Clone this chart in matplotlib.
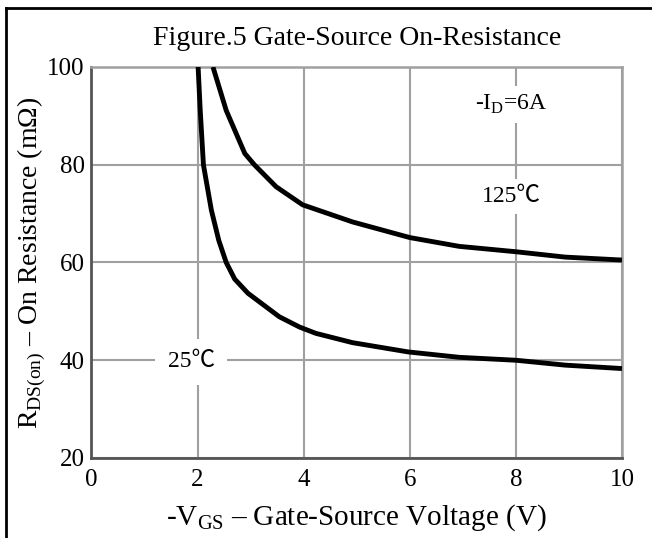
import matplotlib
matplotlib.use("Agg")
import matplotlib.pyplot as plt
from matplotlib.lines import Line2D

plt.rcParams['font.family'] = ['Liberation Serif', 'Noto Sans CJK SC']
plt.rcParams['mathtext.fontset'] = 'custom'
plt.rcParams['mathtext.rm'] = 'Liberation Serif'

vgs_25 = [2.01, 2.05, 2.11, 2.26, 2.40, 2.54, 2.70, 2.95, 3.54, 3.92, 4.23, 4.92, 5.97, 6.93, 8.0, 8.93, 10.0]
rds_25 = [100, 91.1, 80, 70.7, 64.5, 60, 56.6, 53.7, 48.9, 46.8, 45.5, 43.6, 41.7, 40.6, 40.0, 39.0, 38.3]

vgs_125 = [2.29, 2.54, 2.89, 3.07, 3.48, 3.98, 4.92, 6.0, 6.93, 8.0, 8.93, 10.0]
rds_125 = [100, 91.1, 82.3, 80, 75.5, 71.8, 68.3, 65.1, 63.3, 62.2, 61.1, 60.5]

xticks = [0, 2, 4, 6, 8, 10]
yticks = [20, 40, 60, 80, 100]

fig = plt.figure(figsize=(6.52, 5.38), dpi=100)
ax = fig.add_axes([0.1403, 0.1487, 0.8137, 0.7268])

ax.plot(vgs_25, rds_25, color='black', lw=3.5, solid_capstyle='butt', zorder=3)
ax.plot(vgs_125, rds_125, color='black', lw=3.5, solid_capstyle='butt', zorder=3)

ax.set_xlim(0, 10)
ax.set_ylim(20, 100)
ax.set_xticks(xticks)
ax.set_yticks(yticks)
ax.tick_params(length=0, labelsize=18)
ax.tick_params(axis='y', pad=5)
ax.tick_params(axis='x', pad=8)
ax.grid(True, color='#a0a0a0', lw=1.5)
ax.set_axisbelow(True)
for s in ['left', 'bottom']:
    ax.spines[s].set_color('#555555')
    ax.spines[s].set_linewidth(2)
for s in ['top', 'right']:
    ax.spines[s].set_color('#a0a0a0')
    ax.spines[s].set_linewidth(1.8)

ax.set_xlabel('-V$_{\\mathrm{GS}}$ – Gate-Source Voltage (V)', fontsize=21, labelpad=8)
ax.set_ylabel('R$_{\\mathrm{DS(on)}}$ – On Resistance (mΩ)', fontsize=20, labelpad=-1)
ax.set_title('Figure.5 Gate-Source On-Resistance', fontsize=20, pad=16)

box = dict(facecolor='white', edgecolor='none', pad=5)
ax.text(7.91, 92.4, '-I$_{\\mathrm{D}}$=6A', fontsize=17, ha='center', va='center', bbox=box, zorder=2)
ax.text(7.91, 73.5, '125℃', fontsize=17, ha='center', va='center', bbox=box, zorder=2)
ax.text(1.88, 39.7, '25℃', fontsize=17, ha='center', va='center',
        bbox=dict(facecolor='white', edgecolor='none', pad=9), zorder=2)

# frame of the figure (top and left only)
fig.add_artist(Line2D([6 / 652, 6 / 652], [0, 1 - 8 / 538], color='black', lw=2, transform=fig.transFigure))
fig.add_artist(Line2D([6 / 652, 1], [1 - 8 / 538, 1 - 8 / 538], color='black', lw=2, transform=fig.transFigure))

fig.savefig('out.png', dpi=100)
